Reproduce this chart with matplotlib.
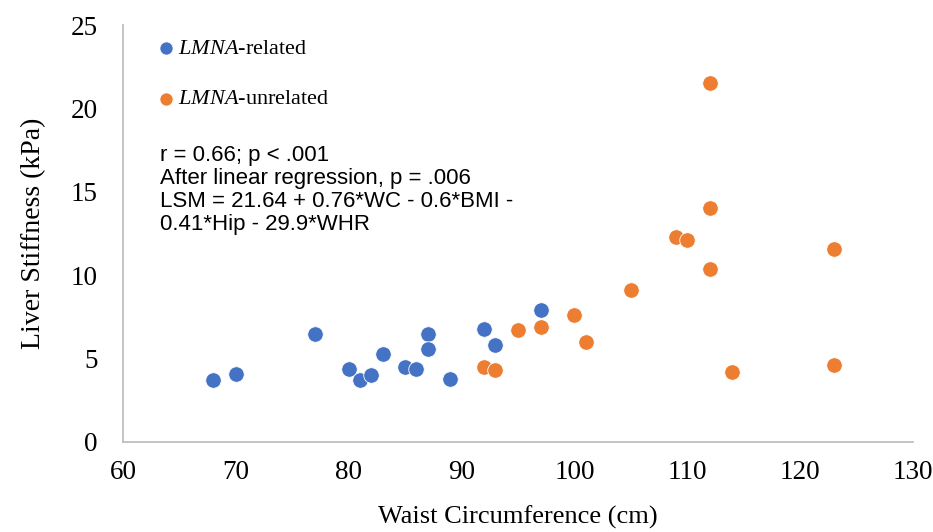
import numpy as np
import matplotlib
matplotlib.use("Agg")
import matplotlib.pyplot as plt

# datos
wc_rel = [68, 70, 77, 80, 81, 82, 83, 85, 86, 87, 87, 89, 92, 93, 97]
lsm_rel = [3.7, 4.1, 6.5, 4.4, 3.7, 4.0, 5.3, 4.5, 4.4, 6.5, 5.6, 3.8, 6.8, 5.8, 7.9]

wc_unrel = [92, 93, 95, 97, 100, 101, 105, 109, 110, 112, 112, 112, 114, 123, 123]
lsm_unrel = [4.5, 4.3, 6.7, 6.9, 7.6, 6.0, 9.1, 12.3, 12.1, 21.5, 14.0, 10.4, 4.2, 11.6, 4.6]

xticks = [60, 70, 80, 90, 100, 110, 120, 130]
yticks = [0, 5, 10, 15, 20, 25]

stats = ("r = 0.66; p < .001\n"
         "After linear regression, p = .006\n"
         "LSM = 21.64 + 0.76*WC - 0.6*BMI -\n"
         "0.41*Hip - 29.9*WHR")

plt.rcParams['font.family'] = 'Liberation Serif'
plt.rcParams['mathtext.fontset'] = 'custom'
plt.rcParams['mathtext.rm'] = 'Liberation Serif'
plt.rcParams['mathtext.it'] = 'Liberation Serif:italic'

azul = '#4472C4'
naranja = '#ED7D31'

fig = plt.figure(figsize=(9.33, 5.32), dpi=100)
ax = fig.add_axes([0.1318, 0.1692, 0.8468, 0.7838])

ax.scatter(wc_rel, lsm_rel, s=125, color=azul, edgecolors='white', linewidths=0.6,
           label=r'$\mathit{LMNA}$-related', zorder=3)
ax.scatter(wc_unrel, lsm_unrel, s=125, color=naranja, edgecolors='white', linewidths=0.6,
           label=r'$\mathit{LMNA}$-unrelated', zorder=3)

ax.set_xlim(60, 130)
ax.set_ylim(0, 25)
ax.set_xticks(xticks)
ax.set_yticks(yticks)
ax.tick_params(length=0, labelsize=19.5)
ax.tick_params(axis='y', pad=18)
ax.tick_params(axis='x', pad=13)

for s in ['top', 'right']:
    ax.spines[s].set_visible(False)
for s in ['left', 'bottom']:
    ax.spines[s].set_color('#bfbfbf')
    ax.spines[s].set_linewidth(1.3)

ax.set_xlabel('Waist Circumference (cm)', fontsize=19, labelpad=15)
ax.set_ylabel('Liver Stiffness (kPa)', fontsize=20, labelpad=18)

leg = ax.legend(loc='upper left', bbox_to_anchor=(0.014, 1.016), frameon=False,
                fontsize=16, markerscale=0.85, handletextpad=0.0,
                labelspacing=1.35, handlelength=1.1)

ax.text(0.047, 0.713, stats, transform=ax.transAxes, va='top', ha='left',
        fontsize=16, family='Liberation Sans', linespacing=1.14)

fig.savefig('out.png', dpi=100)
